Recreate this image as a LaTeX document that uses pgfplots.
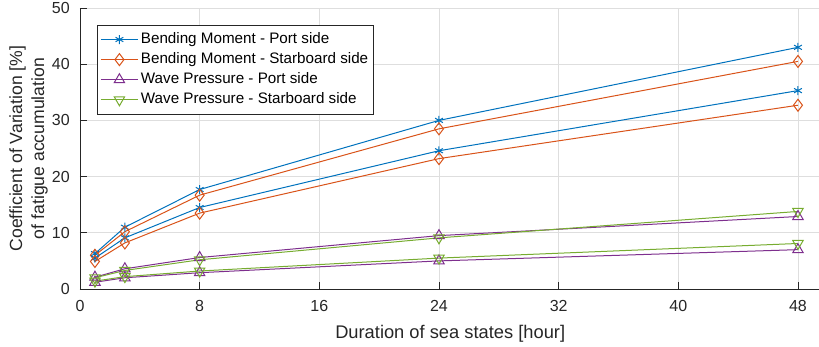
\documentclass[border=0pt]{standalone}
\usepackage{fontspec}
\setmainfont{Liberation Sans}
\usepackage{pgfplots}
\pgfplotsset{compat=1.18}
\definecolor{mblue}{rgb}{0,0.447,0.741}
\definecolor{morange}{rgb}{0.85,0.325,0.098}
\definecolor{mpurple}{rgb}{0.494,0.184,0.556}
\definecolor{mgreen}{rgb}{0.466,0.674,0.188}
\definecolor{axgray}{rgb}{0.15,0.15,0.15}
\definecolor{gridgray}{rgb}{0.87,0.87,0.87}
\begin{document}
\begin{tikzpicture}
\useasboundingbox (-80pt,-57pt) rectangle (739pt,289pt);
\begin{axis}[
  at={(0pt,0pt)}, anchor=south west,
  scale only axis, width=740.4pt, height=281pt,
  xmin=0, xmax=49.5, ymin=0, ymax=50,
  xtick={0,8,16,24,32,40,48}, ytick={0,10,20,30,40,50},
  axis x line*=bottom, axis y line*=left,
  axis line style={axgray, line width=0.8pt, -},
  tick align=inside, major tick length=7pt,
  tick style={axgray, line width=0.8pt},
  grid=major, grid style={gridgray, line width=0.8pt},
  /pgf/number format/assume math mode=true,
  tick label style={font=\fontsize{16}{19}\selectfont, text=axgray},
  xticklabel style={yshift=-7.4pt},
  yticklabel style={xshift=-6.7pt},
  xlabel={Duration of sea states [hour]},
  xlabel style={at={(axis description cs:0.5,-0.1744)}, anchor=base, font=\fontsize{18.3}{22}\selectfont, text=axgray},
  ylabel={Coefficient of Variation [\%]\\of fatigue accumulation},
  ylabel style={at={(axis description cs:-0.0696,0.5)}, anchor=center, align=center, font=\fontsize{17.6}{22}\selectfont, text=axgray},
  legend style={at={(axis description cs:0.023,0.94)}, anchor=north west,
    font=\fontsize{15.2}{17}\selectfont, draw=axgray, line width=0.8pt,
    inner xsep=3pt, inner ysep=6pt,
    nodes={inner ysep=1pt, inner xsep=2.5pt, text height=11pt, text depth=3.5pt},
    row sep=3.6pt},
  legend cell align=left,
  legend image code/.code={\draw[mark repeat=2,mark phase=2] plot coordinates {(0pt,0pt) (18.5pt,0pt) (37pt,0pt)};},
  every axis plot/.append style={line width=1pt},
]
\addplot[color=mblue, mark=asterisk, mark size=4.5pt] coordinates {(1,6.3) (3,11.0) (8,17.7) (24,30.0) (48,43.0)};
\addlegendentry{Bending Moment - Port side}
\addplot[color=morange, mark=diamond, mark size=6pt] coordinates {(1,6.0) (3,10.2) (8,16.7) (24,28.5) (48,40.5)};
\addlegendentry{Bending Moment - Starboard side}
\addplot[color=mpurple, mark=triangle, mark size=6pt] coordinates {(1,2.1) (3,3.6) (8,5.6) (24,9.5) (48,12.9)};
\addlegendentry{Wave Pressure - Port side}
\addplot[color=mgreen, mark=triangle, mark options={rotate=180}, mark size=6pt] coordinates {(1,2.0) (3,3.3) (8,5.2) (24,9.1) (48,13.8)};
\addlegendentry{Wave Pressure - Starboard side}
\addplot[forget plot, color=mblue, mark=asterisk, mark size=4.5pt] coordinates {(1,5.5) (3,9.1) (8,14.5) (24,24.6) (48,35.3)};
\addplot[forget plot, color=morange, mark=diamond, mark size=6pt] coordinates {(1,4.9) (3,8.2) (8,13.5) (24,23.2) (48,32.7)};
\addplot[forget plot, color=mpurple, mark=triangle, mark size=6pt] coordinates {(1,1.2) (3,2.0) (8,2.9) (24,5.0) (48,7.0)};
\addplot[forget plot, color=mgreen, mark=triangle, mark options={rotate=180}, mark size=6pt] coordinates {(1,1.4) (3,2.2) (8,3.2) (24,5.5) (48,8.1)};
\end{axis}
\end{tikzpicture}
\end{document}
